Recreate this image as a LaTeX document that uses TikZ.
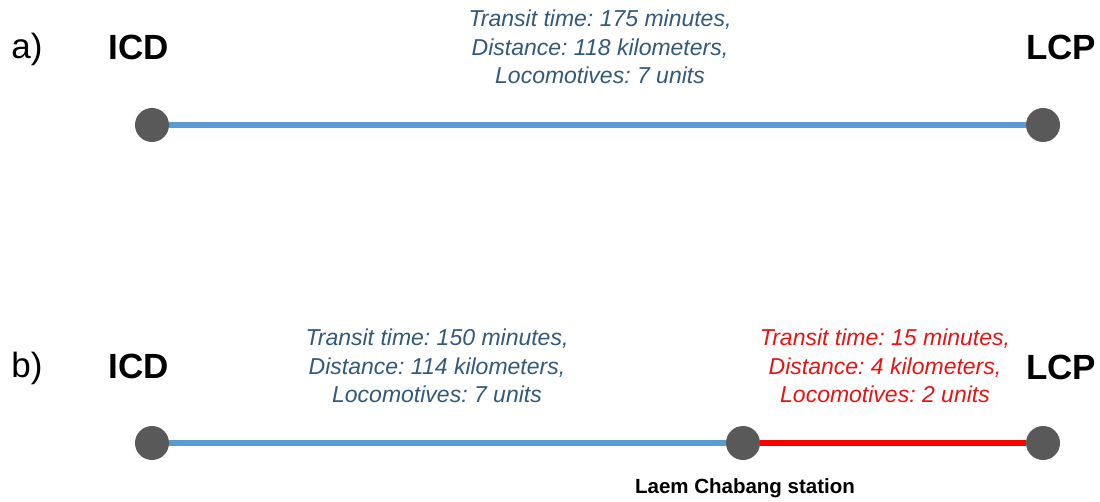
\documentclass[tikz,border=0pt]{standalone}
\usepackage{fontspec}
\setmainfont{Liberation Sans}
\usepackage{xcolor}
\usetikzlibrary{positioning}
\definecolor{dotgray}{RGB}{89,89,89}
\definecolor{railblue}{RGB}{91,155,213}
\definecolor{infoblue}{RGB}{50,88,122}
\definecolor{infored}{RGB}{230,20,20}
\definecolor{railred}{RGB}{255,0,0}
\frenchspacing

\begin{document}
\begin{tikzpicture}[x=1pt, y=-1pt,
  stop/.style={circle, fill=dotgray, minimum size=34pt, inner sep=0pt},
  place/.style={font=\fontsize{35}{42}\selectfont\bfseries},
  part/.style={font=\fontsize{35}{42}\selectfont},
  info/.style={align=center, font=\fontsize{23}{28.5}\selectfont\itshape},
  track/.style={line width=6pt}
]
  \useasboundingbox (0,0) rectangle (1100,502);

  % a) direct route
  \node[part] (Pa) at (27,49) {a)};
  \node[place] (ICDa) at (139,47) {ICD};
  \node[place] (LCPa) at (1061,47) {LCP};
  \node[stop] (Sa) at (152,125) {};
  \node[stop] (Ea) at (1043,125) {};
  \draw[track, railblue] (Sa) -- (Ea);
  \node[info, text=infoblue] (Ta) at (600,47) {Transit time: 175 minutes,\\ Distance: 118 kilometers,\\ Locomotives: 7 units};

  % b) route via Laem Chabang station
  \node[part] (Pb) at (27,368) {b)};
  \node[place] (ICDb) at (139,366) {ICD};
  \node[place] (LCPb) at (1061,367) {LCP};
  \node[stop] (Sb) at (152,443) {};
  \node[stop] (Mb) at (743,443) {};
  \node[stop] (Eb) at (1043,443) {};
  \draw[track, railblue] (Sb) -- (Mb);
  \draw[track, railred] (Mb) -- (Eb);
  \node[info, text=infoblue] (Tb) at (437,366) {Transit time: 150 minutes,\\ Distance: 114 kilometers,\\ Locomotives: 7 units};
  \node[info, text=infored] (Tc) at (885,366) {Transit time: 15 minutes,\\ Distance: 4 kilometers,\\ Locomotives: 2 units};
  \node[font=\fontsize{20.5}{24}\selectfont\bfseries] (St) at (745,488) {Laem Chabang station};
\end{tikzpicture}
\end{document}
